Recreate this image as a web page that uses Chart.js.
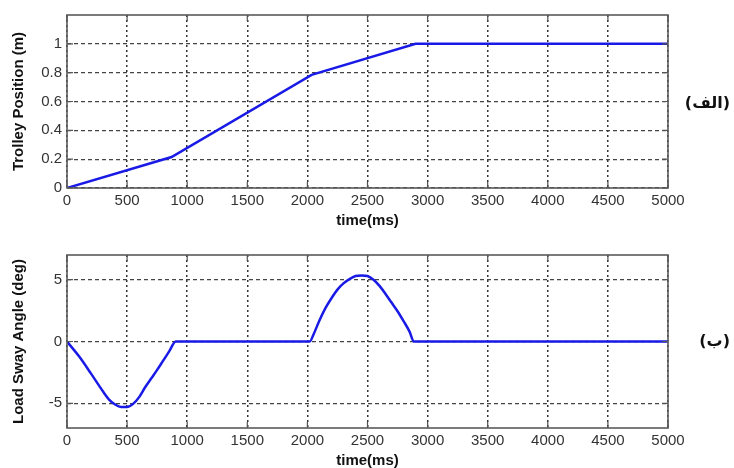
<!DOCTYPE html>
<html>
<head>
<meta charset="utf-8">
<script src="https://cdn.jsdelivr.net/npm/chart.js"></script>
<style>
  body { margin: 0; background: #fff; }
  #wrap { position: relative; width: 734px; height: 468px; overflow: hidden; }
  canvas { position: absolute; left: 0; }
  .tag { position: absolute; right: 4px; font: bold 16px "DejaVu Sans", sans-serif; color: #111; white-space: nowrap; }
</style>
</head>
<body>
<div id="wrap">
  <canvas id="trolley" width="734" height="234" style="top:0"></canvas>
  <canvas id="sway" width="734" height="234" style="top:234px"></canvas>
  <div class="tag" dir="rtl" style="top:93px">(الف)</div>
  <div class="tag" dir="rtl" style="top:331px">(ب)</div>
</div>

<script>
// values
const xTicks = [0, 500, 1000, 1500, 2000, 2500, 3000, 3500, 4000, 4500, 5000];

const trolleyTime = [0, 870, 2035, 2900, 5000];
const trolleyPos  = [0, 0.215, 0.785, 1.0, 1.0];
const trolleyTicks = [0, 0.2, 0.4, 0.6, 0.8, 1];

const swayTime  = [0, 100, 200, 300, 350, 400, 450, 500, 550, 600, 650, 700, 750, 800, 850, 905,
                   2020, 2050, 2100, 2150, 2200, 2250, 2300, 2350, 2400, 2450, 2500, 2550, 2600,
                   2650, 2700, 2750, 2800, 2850, 2885, 5000];
const swayAngle = [0, -1.2, -2.6, -4.05, -4.7, -5.1, -5.3, -5.3, -5.05, -4.5, -3.7, -3.0, -2.3, -1.55, -0.8, 0,
                   0, 0.55, 1.7, 2.7, 3.5, 4.2, 4.7, 5.05, 5.3, 5.35, 5.3, 5.0, 4.5,
                   3.85, 3.15, 2.45, 1.65, 0.8, 0, 0];
const swayTicks = [-5, 0, 5];

const FONT = '"Liberation Sans", Arial, sans-serif';

// matlab style box with inward tick marks
const boxPlugin = {
  id: 'box',
  afterDraw(chart) {
    const { ctx, chartArea: a, scales } = chart;
    ctx.save();
    ctx.strokeStyle = '#555';
    ctx.lineWidth = 1.2;
    ctx.beginPath();
    scales.x.ticks.forEach(t => {
      const px = scales.x.getPixelForValue(t.value);
      ctx.moveTo(px, a.bottom); ctx.lineTo(px, a.bottom - 6);
      ctx.moveTo(px, a.top); ctx.lineTo(px, a.top + 6);
    });
    scales.y.ticks.forEach(t => {
      const py = scales.y.getPixelForValue(t.value);
      ctx.moveTo(a.left, py); ctx.lineTo(a.left + 6, py);
      ctx.moveTo(a.right, py); ctx.lineTo(a.right - 6, py);
    });
    ctx.stroke();
    ctx.lineWidth = 1.6;
    ctx.strokeStyle = '#5a5a5a';
    ctx.strokeRect(a.left, a.top, a.right - a.left, a.bottom - a.top);
    ctx.restore();
  }
};

function makeChart(id, times, values, yMin, yMax, yTicks, yTitle, padTop, padBottom, xHeight, smooth) {
  return new Chart(document.getElementById(id), {
    type: 'line',
    data: {
      datasets: [{
        data: times.map((t, i) => ({ x: t, y: values[i] })),
        borderColor: '#1a1ae6',
        borderWidth: 2.5,
        pointRadius: 0,
        tension: 0,
        cubicInterpolationMode: smooth ? 'monotone' : 'default',
        fill: false
      }]
    },
    options: {
      responsive: false,
      animation: false,
      layout: { padding: { left: 0, right: 66, top: padTop, bottom: padBottom } },
      plugins: { legend: { display: false }, tooltip: { enabled: false } },
      scales: {
        x: {
          type: 'linear',
          min: 0,
          max: 5000,
          afterBuildTicks: s => { s.ticks = xTicks.map(v => ({ value: v })); },
          afterFit: s => { s.height = xHeight; },
          border: { display: false, dash: [2, 3] },
          grid: { color: '#333', lineWidth: 1.5, drawTicks: false },
          ticks: { padding: 4, color: '#333', font: { family: FONT, size: 15 }, maxRotation: 0, callback: v => String(v) },
          title: {
            display: true,
            text: 'time(ms)',
            color: '#111',
            padding: { top: 0, bottom: 0 },
            font: { family: FONT, size: 15, weight: 'bold', lineHeight: 1 }
          }
        },
        y: {
          min: yMin,
          max: yMax,
          afterBuildTicks: s => { s.ticks = yTicks.map(v => ({ value: v })); },
          afterFit: s => { s.width = 67; },
          border: { display: false, dash: [4, 3] },
          grid: { color: '#444', lineWidth: 1.3, drawTicks: false },
          ticks: { padding: 5, color: '#333', font: { family: FONT, size: 15 }, callback: v => String(v) },
          title: {
            display: true,
            text: yTitle,
            color: '#111',
            padding: { top: 11, bottom: 0 },
            font: { family: FONT, size: 15, weight: 'bold', lineHeight: 1 }
          }
        }
      }
    },
    plugins: [boxPlugin]
  });
}

makeChart('trolley', trolleyTime, trolleyPos, 0, 1.2, trolleyTicks, 'Trolley Position (m)', 15, 5.5, 40.5, false);
makeChart('sway', swayTime, swayAngle, -7, 7, swayTicks, 'Load Sway Angle (deg)', 21, 0, 40, true);
</script>
</body>
</html>
